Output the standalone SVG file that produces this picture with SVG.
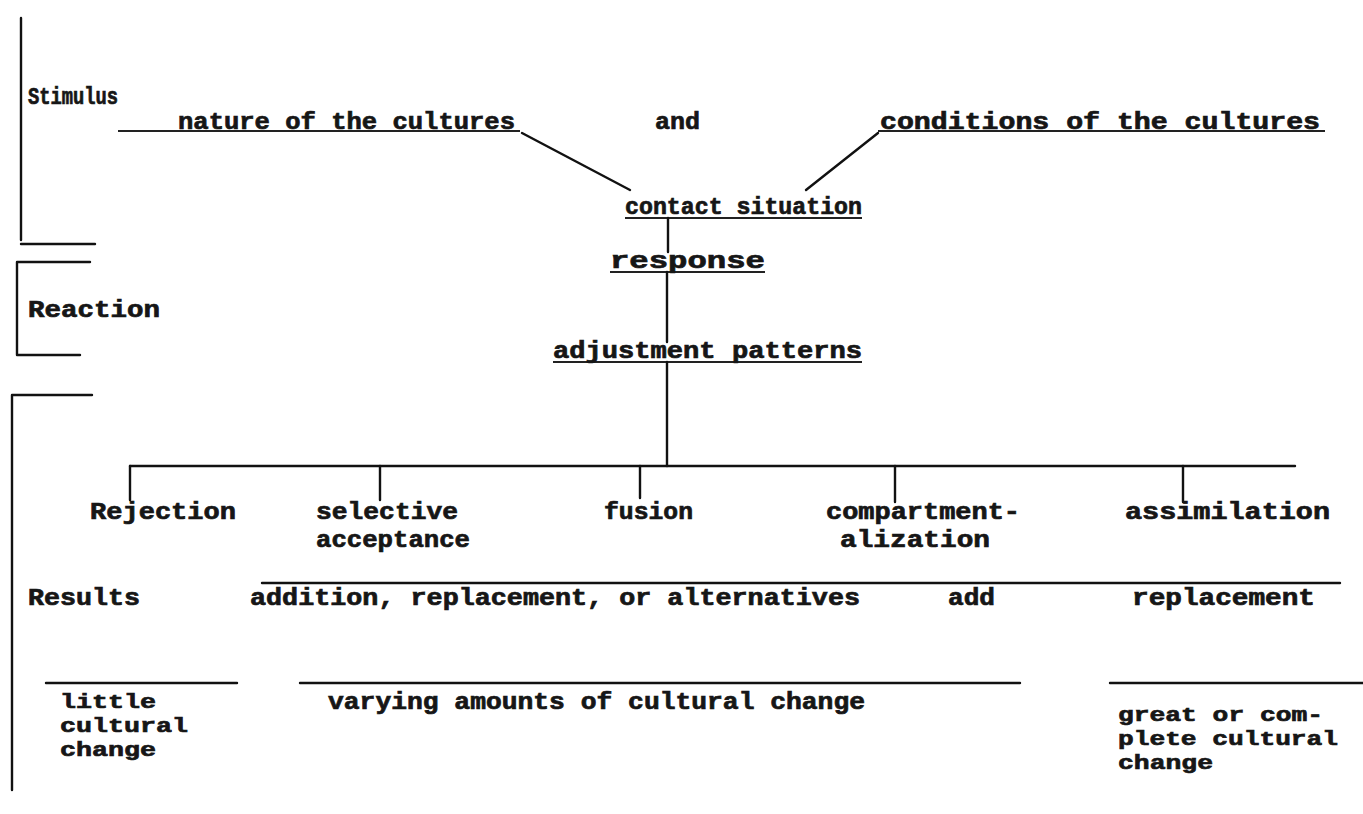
<svg xmlns="http://www.w3.org/2000/svg" width="1363" height="814" viewBox="0 0 1363 814">
<style>
.t{font-family:"Liberation Mono","DejaVu Sans Mono",monospace;font-weight:bold;font-size:23px;fill:#161616;stroke:#161616;stroke-width:0.7}
.s{font-size:21px}
.ln{stroke:#111;stroke-width:2.4;fill:none;stroke-linecap:round}
.ul{stroke:#222;stroke-width:2.2;fill:none}
</style>
<rect width="1363" height="814" fill="#fff"/>
<g id="brackets">
<path class="ln" d="M21,18 V240"/>
<path class="ln" d="M21,244 H95"/>
<path class="ln" d="M17,262 V355 M17,262 H90 M17,355 H80"/>
<path class="ln" d="M12,395 V790 M12,395 H92"/>
</g>
<g id="labels">
<text class="t" x="28" y="104" textLength="90" lengthAdjust="spacingAndGlyphs">Stimulus</text>
<text class="t" x="28" y="317" textLength="132" lengthAdjust="spacingAndGlyphs">Reaction</text>
<text class="t" x="28" y="605" textLength="112" lengthAdjust="spacingAndGlyphs">Results</text>
</g>
<g id="connectors">
<path class="ul" d="M118,131 H520"/>
<path class="ln" d="M522,133 L630,190"/>
<path class="ul" d="M878,131 H1325"/>
<path class="ln" d="M878,133 L806,190"/>
<path class="ul" d="M625,218 H862"/>
<path class="ln" d="M668,218 V252"/>
<path class="ul" d="M610,272 H765"/>
<path class="ln" d="M667,272 V342"/>
<path class="ul" d="M553,362 H862"/>
<path class="ln" d="M667,362 V466"/>
<path class="ln" d="M130,466 H1295"/>
<path class="ln" d="M130,466 V500 M380,466 V500 M640,466 V498 M895,466 V502 M1183,466 V502"/>
<path class="ln" d="M262,583 H1340"/>
<path class="ln" d="M46,683 H237 M300,683 H1020 M1110,683 H1363"/>
</g>
<g id="stimulus">
<text class="t" x="178" y="129" textLength="337" lengthAdjust="spacingAndGlyphs">nature of the cultures</text>
<text class="t" x="655" y="129" textLength="45" lengthAdjust="spacingAndGlyphs">and</text>
<text class="t" x="880" y="129" textLength="440" lengthAdjust="spacingAndGlyphs">conditions of the cultures</text>
</g>
<g id="contact"><text class="t" x="625" y="214" textLength="237" lengthAdjust="spacingAndGlyphs">contact situation</text></g>
<g id="response"><text class="t" x="610" y="268" textLength="155" lengthAdjust="spacingAndGlyphs">response</text></g>
<g id="adjustment"><text class="t" x="553" y="358" textLength="309" lengthAdjust="spacingAndGlyphs">adjustment patterns</text></g>
<g id="rejection"><text class="t" x="90" y="519" textLength="146" lengthAdjust="spacingAndGlyphs">Rejection</text></g>
<g id="selective"><text class="t" x="316" y="519" textLength="142" lengthAdjust="spacingAndGlyphs">selective</text><text class="t" x="316" y="547" textLength="154" lengthAdjust="spacingAndGlyphs">acceptance</text></g>
<g id="fusion"><text class="t" x="604" y="519" textLength="89" lengthAdjust="spacingAndGlyphs">fusion</text></g>
<g id="compartment"><text class="t" x="826" y="519" textLength="194" lengthAdjust="spacingAndGlyphs">compartment-</text><text class="t" x="840" y="547" textLength="150" lengthAdjust="spacingAndGlyphs">alization</text></g>
<g id="assimilation"><text class="t" x="1125" y="519" textLength="205" lengthAdjust="spacingAndGlyphs">assimilation</text></g>
<g id="results">
<text class="t" x="250" y="605" textLength="610" lengthAdjust="spacingAndGlyphs">addition, replacement, or alternatives</text>
<text class="t" x="948" y="605" textLength="47" lengthAdjust="spacingAndGlyphs">add</text>
<text class="t" x="1132" y="605" textLength="183" lengthAdjust="spacingAndGlyphs">replacement</text>
</g>
<g id="little"><text class="t s" x="60" y="708" textLength="96" lengthAdjust="spacingAndGlyphs">little</text><text class="t s" x="60" y="732" textLength="128" lengthAdjust="spacingAndGlyphs">cultural</text><text class="t s" x="60" y="756" textLength="96" lengthAdjust="spacingAndGlyphs">change</text></g>
<g id="varying"><text class="t" x="328" y="709" textLength="537" lengthAdjust="spacingAndGlyphs">varying amounts of cultural change</text></g>
<g id="great"><text class="t s" x="1118" y="721" textLength="205" lengthAdjust="spacingAndGlyphs">great or com-</text><text class="t s" x="1118" y="745" textLength="220" lengthAdjust="spacingAndGlyphs">plete cultural</text><text class="t s" x="1118" y="769" textLength="95" lengthAdjust="spacingAndGlyphs">change</text></g>
</svg>
